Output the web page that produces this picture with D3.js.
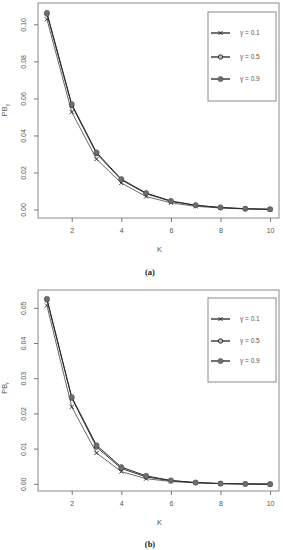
<!DOCTYPE html>
<html>
<head>
<meta charset="utf-8">
<script src="https://cdn.jsdelivr.net/npm/d3@7"></script>
<style>
  body { margin: 0; background: #fff; }
  svg { display: block; font-family: "Liberation Sans", Arial, sans-serif; }
</style>
</head>
<body>
<svg id="chart" width="283" height="550"></svg>
<script>
// K values on the x axis
var kVals = [1, 2, 3, 4, 5, 6, 7, 8, 9, 10];
var gammaLabels = ["\u03b3 = 0.1", "\u03b3 = 0.5", "\u03b3 = 0.9"];

// panel (a) PB_y
var pbY_g01 = [0.1030, 0.0529, 0.0275, 0.0146, 0.0073, 0.0039, 0.0020, 0.0011, 0.0006, 0.0003];
var pbY_g05 = [0.1058, 0.0565, 0.0305, 0.0163, 0.0088, 0.0047, 0.0025, 0.0013, 0.0007, 0.0004];
var pbY_g09 = [0.1065, 0.0572, 0.0311, 0.0167, 0.0092, 0.0049, 0.0026, 0.0014, 0.0007, 0.0004];
var yTicksA = [0.00, 0.02, 0.04, 0.06, 0.08, 0.10];

// panel (b) PB_r
var pbR_g01 = [0.0508, 0.0220, 0.0089, 0.0036, 0.0016, 0.0008, 0.0004, 0.0002, 0.0001, 0.0000];
var pbR_g05 = [0.0524, 0.0245, 0.0106, 0.0045, 0.0021, 0.0010, 0.0005, 0.0002, 0.0001, 0.0001];
var pbR_g09 = [0.0527, 0.0248, 0.0111, 0.0049, 0.0024, 0.0011, 0.0005, 0.0002, 0.0001, 0.0000];
var yTicksB = [0.00, 0.01, 0.02, 0.03, 0.04, 0.05];

var xTicks = [2, 4, 6, 8, 10];

var svg = d3.select("#chart");

function panel(opt) {
  var g = svg.append("g");
  var left = 38, right = 279;
  var x = d3.scaleLinear().domain([0.64, 10.36]).range([left, right]);
  var y = d3.scaleLinear().domain(opt.ydom).range([opt.bottom, opt.top]);

  // box
  g.append("rect")
    .attr("x", left).attr("y", opt.top)
    .attr("width", right - left).attr("height", opt.bottom - opt.top)
    .attr("fill", "none").attr("stroke", "#8a8a8a").attr("stroke-width", 1);

  // x axis
  var xa = g.append("g").attr("transform", "translate(0," + opt.bottom + ")")
    .call(d3.axisBottom(x).tickValues(xTicks).tickSize(4).tickPadding(6).tickFormat(d3.format("d")));
  xa.select(".domain").remove();
  xa.selectAll("line").attr("stroke", "#777");
  xa.selectAll("text").attr("font-size", 7).attr("fill", "#555");

  // y axis, labels turned like in R
  var ya = g.append("g").attr("transform", "translate(" + left + ",0)")
    .call(d3.axisLeft(y).tickValues(opt.yticks).tickSize(4).tickFormat(d3.format(".2f")));
  ya.select(".domain").remove();
  ya.selectAll("line").attr("stroke", "#777");
  ya.selectAll("text")
    .attr("font-size", 7).attr("fill", "#555")
    .attr("x", 0).attr("dy", 0)
    .attr("text-anchor", "middle")
    .attr("transform", function(d) { return "translate(-12," + y(d) + ") rotate(-90)"; })
    .attr("y", 0);
  ya.selectAll(".tick").attr("transform", null);
  ya.selectAll(".tick line").attr("y1", function(d) { return y(d); }).attr("y2", function(d) { return y(d); });

  // series
  var series = [
    { vals: opt.s1, color: "#6a6a6a", marker: "cross" },
    { vals: opt.s2, color: "#3a3a3a", marker: "open" },
    { vals: opt.s3, color: "#2a2a2a", marker: "filled" }
  ];
  var line = d3.line().x(function(d, i) { return x(kVals[i]); }).y(function(d) { return y(d); });

  series.forEach(function(s) {
    g.append("path").datum(s.vals)
      .attr("d", line).attr("fill", "none")
      .attr("stroke", s.color).attr("stroke-width", 1);
  });
  series.forEach(function(s) {
    s.vals.forEach(function(v, i) {
      drawMarker(g, x(kVals[i]), y(v), s.marker);
    });
  });

  // legend
  var lg = g.append("g");
  lg.append("rect")
    .attr("x", 208).attr("y", opt.legTop)
    .attr("width", 68).attr("height", opt.legH)
    .attr("fill", "#fff").attr("stroke", "#8a8a8a").attr("stroke-width", 1);
  series.forEach(function(s, i) {
    var ly = opt.legRows[i];
    lg.append("line").attr("x1", 211).attr("x2", 230).attr("y1", ly).attr("y2", ly)
      .attr("stroke", "#222").attr("stroke-width", 1.3);
    drawMarker(lg, 220.5, ly, s.marker);
    lg.append("text").attr("x", 240).attr("y", ly).attr("dy", "0.35em")
      .attr("font-size", 6.5).attr("fill", "#555").text(gammaLabels[i]);
  });

  // axis titles
  g.append("text").attr("x", (left + right) / 2 + 1).attr("y", opt.bottom + 34)
    .attr("text-anchor", "middle").attr("font-size", 7.5).attr("fill", "#555").text("K");

  var yl = g.append("text")
    .attr("transform", "translate(7," + opt.ylabY + ") rotate(-90)")
    .attr("text-anchor", "middle").attr("font-size", 7.5).attr("fill", "#555");
  yl.append("tspan").text("PB");
  yl.append("tspan").attr("font-size", 5).attr("dy", 2).text(opt.sub);

  g.append("text").attr("x", 150).attr("y", opt.capY)
    .attr("text-anchor", "middle").attr("font-size", 8.5).attr("font-weight", "bold").attr("fill", "#222")
    .attr("font-family", "Liberation Serif, serif").text(opt.caption);
}

function drawMarker(g, cx, cy, type) {
  if (type === "cross") {
    g.append("path")
      .attr("d", "M" + (cx - 2) + "," + (cy - 2) + "L" + (cx + 2) + "," + (cy + 2) +
                 "M" + (cx - 2) + "," + (cy + 2) + "L" + (cx + 2) + "," + (cy - 2))
      .attr("stroke", "#333").attr("stroke-width", 1).attr("fill", "none");
  } else if (type === "open") {
    g.append("circle").attr("cx", cx).attr("cy", cy).attr("r", 2.2)
      .attr("fill", "#bbb").attr("stroke", "#333").attr("stroke-width", 1);
  } else {
    g.append("circle").attr("cx", cx).attr("cy", cy).attr("r", 2.6)
      .attr("fill", "#6e6e6e").attr("stroke", "#555").attr("stroke-width", 0.6);
  }
}

panel({
  top: 3, bottom: 218, ydom: [-0.0043, 0.1118], yticks: yTicksA,
  s1: pbY_g01, s2: pbY_g05, s3: pbY_g09,
  legTop: 12, legH: 89, legRows: [33, 57, 79],
  sub: "y", ylabY: 110, caption: "(a)", capY: 275
});

panel({
  top: 290, bottom: 491, ydom: [-0.0019, 0.0552], yticks: yTicksB,
  s1: pbR_g01, s2: pbR_g05, s3: pbR_g09,
  legTop: 298, legH: 84, legRows: [319, 341, 361],
  sub: "r", ylabY: 388, caption: "(b)", capY: 547
});
</script>
</body>
</html>
